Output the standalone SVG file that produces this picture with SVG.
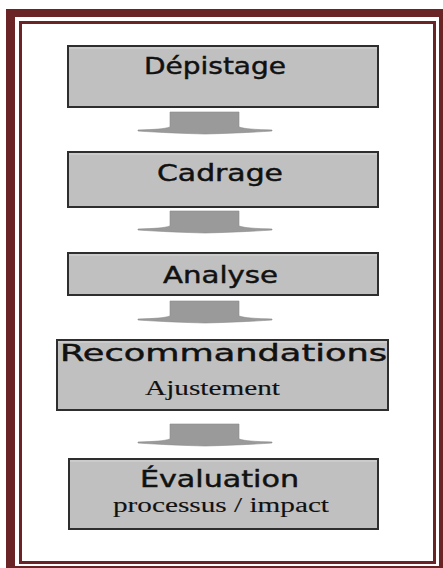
<svg xmlns="http://www.w3.org/2000/svg" width="443" height="568" viewBox="0 0 443 568">
  <defs>
    <style>
      .box { fill: #c0c0c0; stroke: #2e2e2e; stroke-width: 2; }
      .hl { stroke: #d6d6d6; stroke-width: 1; }
      .sans { font-family: "DejaVu Sans", Verdana, sans-serif; font-size: 23px; fill: #111; stroke: #111; stroke-width: 0.45; }
      .serif { font-family: "Liberation Serif", "Times New Roman", serif; font-size: 20px; fill: #111; stroke: #111; stroke-width: 0.12; }
      .arrow { fill: #9a9a9a; stroke: #8c8c8c; stroke-width: 0.6; }
    </style>
    <!-- flattened block arrow pointing down, top edge at y=0 -->
    <path id="downArrow" class="arrow" d="M170,0 H239 V15 C245,17 255,17.5 272,18 L272,19 C250,20.5 225,21.5 205,22 C185,21.5 160,20.5 138,19 L138,18 C155,17.5 164,17 170,15 Z"/>
  </defs>

  <rect width="443" height="568" fill="#ffffff"/>

  <!-- double frame -->
  <g id="frame">
    <path fill="#6b2426" fill-rule="evenodd" d="M6,9 H450 V575 H6 Z M15,17 V566 H439 V17 Z"/>
    <rect x="20.5" y="22.5" width="414" height="540" fill="none" stroke="#6b2426" stroke-width="3"/>
  </g>

  <!-- connectors -->
  <g id="connectors">
    <use href="#downArrow" transform="translate(0,112)"/>
    <use href="#downArrow" transform="translate(0,211)"/>
    <use href="#downArrow" transform="translate(0,301)"/>
    <use href="#downArrow" transform="translate(0,424)"/>
  </g>

  <g id="depistage">
    <rect class="box" x="68" y="46" width="310" height="61"/>
    <line class="hl" x1="69" y1="48" x2="377" y2="48"/>
    <line x1="378" y1="46" x2="378" y2="107" stroke="#2e2e2e" stroke-width="1.5"/>
    <text class="sans" x="144" y="74" textLength="142" lengthAdjust="spacingAndGlyphs">Dépistage</text>
  </g>

  <g id="cadrage">
    <rect class="box" x="68" y="152" width="310" height="55"/>
    <line class="hl" x1="69" y1="154" x2="377" y2="154"/>
    <text class="sans" x="157" y="181" textLength="126" lengthAdjust="spacingAndGlyphs">Cadrage</text>
  </g>

  <g id="analyse">
    <rect class="box" x="68" y="253" width="310" height="42"/>
    <line class="hl" x1="69" y1="255" x2="377" y2="255"/>
    <text class="sans" x="163" y="283" textLength="115" lengthAdjust="spacingAndGlyphs">Analyse</text>
  </g>

  <g id="recommandations">
    <rect class="box" x="57" y="340" width="331" height="70"/>
    <line class="hl" x1="58" y1="342" x2="387" y2="342"/>
    <text class="sans" x="60" y="361" textLength="327" lengthAdjust="spacingAndGlyphs">Recommandations</text>
    <text class="serif" x="145" y="395" textLength="135" lengthAdjust="spacingAndGlyphs">Ajustement</text>
  </g>

  <g id="evaluation">
    <rect class="box" x="69" y="459" width="309" height="70"/>
    <line class="hl" x1="70" y1="461" x2="377" y2="461"/>
    <text class="sans" x="140" y="487" textLength="159" lengthAdjust="spacingAndGlyphs">Évaluation</text>
    <text class="serif" x="113" y="512" textLength="216" lengthAdjust="spacingAndGlyphs">processus / impact</text>
  </g>
</svg>
